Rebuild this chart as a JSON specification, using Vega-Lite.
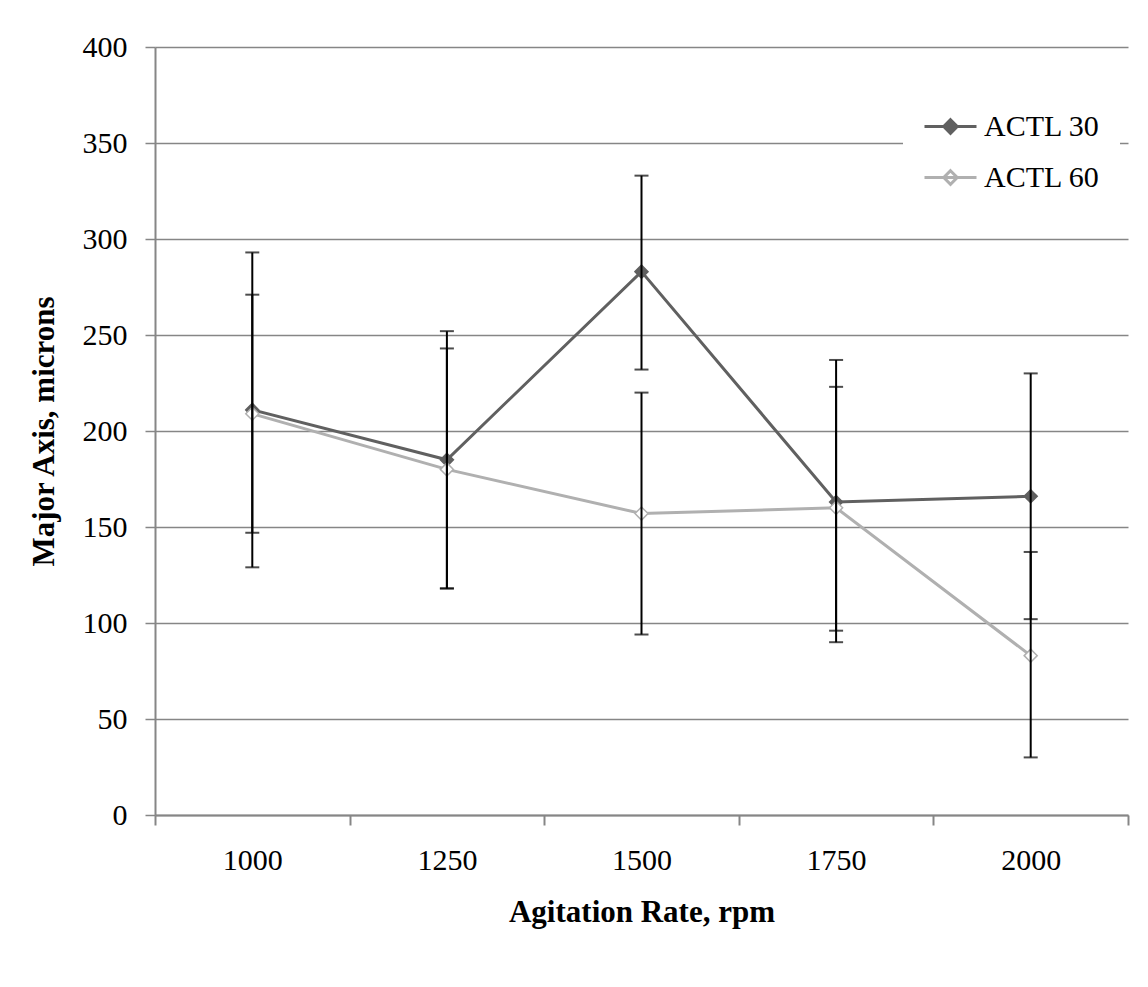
{
  "$schema": "https://vega.github.io/schema/vega-lite/v6.json",
  "width": 973,
  "height": 768,
  "autosize": {"type": "none"},
  "padding": {"left": 155, "top": 47, "right": 20, "bottom": 172},
  "background": "white",
  "data": {
    "values": [
      {"rpm": "1000", "series": "ACTL 30", "mean": 211, "lower": 129, "upper": 293},
      {"rpm": "1000", "series": "ACTL 60", "mean": 209, "lower": 147, "upper": 271},
      {"rpm": "1250", "series": "ACTL 30", "mean": 185, "lower": 118, "upper": 252},
      {"rpm": "1250", "series": "ACTL 60", "mean": 180, "lower": 118, "upper": 243},
      {"rpm": "1500", "series": "ACTL 30", "mean": 283, "lower": 232, "upper": 333},
      {"rpm": "1500", "series": "ACTL 60", "mean": 157, "lower": 94, "upper": 220},
      {"rpm": "1750", "series": "ACTL 30", "mean": 163, "lower": 90, "upper": 237},
      {"rpm": "1750", "series": "ACTL 60", "mean": 160, "lower": 96, "upper": 223},
      {"rpm": "2000", "series": "ACTL 30", "mean": 166, "lower": 102, "upper": 230},
      {"rpm": "2000", "series": "ACTL 60", "mean": 83, "lower": 30, "upper": 137}
    ]
  },
  "encoding": {
    "x": {
      "field": "rpm",
      "type": "ordinal",
      "bandPosition": 0.5,
      "scale": {"type": "band", "paddingInner": 0, "paddingOuter": 0},
      "axis": {
        "title": "Agitation Rate, rpm",
        "labelAngle": 0,
        "tickBand": "extent",
        "grid": false,
        "domainColor": "#868686",
        "domainWidth": 2,
        "tickColor": "#868686",
        "tickWidth": 2,
        "tickSize": 10,
        "labelPadding": 20,
        "titlePadding": 22
      }
    }
  },
  "layer": [
    {
      "mark": {"type": "line", "strokeWidth": 3},
      "encoding": {
        "y": {
          "field": "mean",
          "type": "quantitative",
          "scale": {"domain": [0, 400]},
          "axis": {
            "title": "Major Axis, microns",
            "values": [0, 50, 100, 150, 200, 250, 300, 350, 400],
            "grid": true,
            "gridColor": "#868686",
            "gridWidth": 1.5,
            "domainColor": "#868686",
            "domainWidth": 2,
            "tickColor": "#868686",
            "tickWidth": 1.5,
            "tickSize": 10,
            "labelPadding": 18,
            "titlePadding": 22
          }
        },
        "stroke": {
          "field": "series",
          "type": "nominal",
          "scale": {"domain": ["ACTL 30", "ACTL 60"], "range": ["#606060", "#b0b0b0"]},
          "legend": {
            "title": null,
            "orient": "none",
            "legendX": 748,
            "legendY": 32,
            "fillColor": "white",
            "padding": 20,
            "symbolType": "M-1,0H1M0,-0.26L0.26,0L0,0.26L-0.26,0Z",
            "symbolSize": 2704,
            "symbolStrokeWidth": 3,
            "labelFont": "Liberation Serif",
            "labelFontSize": 30,
            "labelColor": "black",
            "labelOffset": 6,
            "rowPadding": 8
          }
        }
      }
    },
    {
      "mark": {"type": "point", "shape": "diamond", "size": 170, "strokeWidth": 1.5, "opacity": 1},
      "encoding": {
        "y": {"field": "mean", "type": "quantitative"},
        "stroke": {"field": "series", "type": "nominal"},
        "fill": {
          "field": "series",
          "type": "nominal",
          "scale": {"domain": ["ACTL 30", "ACTL 60"], "range": ["#606060", "white"]}
        }
      }
    },
    {
      "mark": {"type": "rule", "color": "black", "strokeWidth": 2},
      "encoding": {
        "y": {"field": "lower", "type": "quantitative"},
        "y2": {"field": "upper"}
      }
    },
    {
      "mark": {"type": "tick", "color": "black", "thickness": 2, "size": 14, "orient": "horizontal"},
      "encoding": {
        "y": {"field": "upper", "type": "quantitative"}
      }
    },
    {
      "mark": {"type": "tick", "color": "black", "thickness": 2, "size": 14, "orient": "horizontal"},
      "encoding": {
        "y": {"field": "lower", "type": "quantitative"}
      }
    }
  ],
  "config": {
    "font": "Liberation Serif",
    "axis": {
      "labelFont": "Liberation Serif",
      "labelFontSize": 30,
      "labelColor": "black",
      "titleFont": "Liberation Serif",
      "titleFontSize": 31,
      "titleFontWeight": "bold",
      "titleColor": "black"
    },
    "view": {"stroke": null}
  }
}
